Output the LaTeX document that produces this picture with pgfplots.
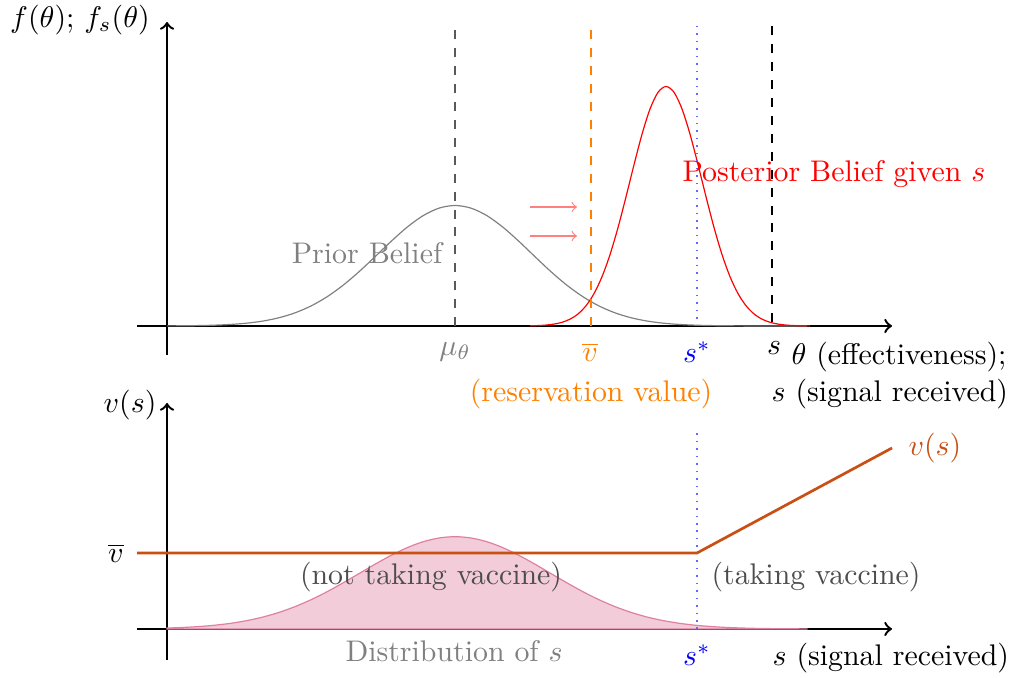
\documentclass[border=0pt]{standalone}
\usepackage{pgfplots}
\pgfplotsset{compat=1.18}
\definecolor{vcol}{RGB}{200,80,20}
\definecolor{rescol}{RGB}{255,128,0}

\pgfplotsset{
  sketch/.style={
    x=0.335pt, y=0.335pt,
    axis lines=middle,
    axis line style={->, line width=0.8pt},
    xtick=\empty, ytick=\empty,
    enlargelimits=false,
    clip=false,
    anchor=origin,
    xmin=-30, xmax=725,
  },
}

\begin{document}
\begin{tikzpicture}
% top panel: prior and posterior beliefs
\begin{axis}[sketch, at={(0pt,0pt)}, ymin=-29, ymax=304]
\addplot[gray, line width=0.4pt, smooth] coordinates {
  (0,0.092) (16,0.199) (32,0.414) (48,0.823) (64,1.565) (80,2.846) (96,4.954)
  (112,8.253) (128,13.14) (144,20.02) (160,29.19) (176,40.68) (192,54.26)
  (208,69.25) (224,84.53) (240,98.71) (256,110.28) (272,117.86) (288,120.5)
  (304,117.86) (320,110.28) (336,98.71) (352,84.53) (368,69.25) (384,54.26)
  (400,40.68) (416,29.19) (432,20.02) (448,13.14) (464,8.253) (480,4.954)
  (496,2.846) (512,1.565) (528,0.823) (544,0.414) (560,0.199) (576,0.092)
  (592,0.04) (608,0.017) (640,0)};
\addplot[red, line width=0.4pt, smooth] coordinates {
  (363,0.190) (371,0.431) (379,0.926) (387,1.895) (395,3.691)
  (403,6.842) (411,12.07) (419,20.27) (427,32.41) (435,49.31) (443,71.42)
  (451,98.46) (459,129.19) (467,161.33) (475,191.77) (483,216.99) (491,233.66)
  (499,239.5) (507,233.66) (515,216.99) (523,191.77) (531,161.33) (539,129.19)
  (547,98.46) (555,71.42) (563,49.31) (571,32.41) (579,20.27) (587,12.07)
  (595,6.842) (603,3.691) (611,1.895) (619,0.926) (627,0.431) (635,0.190)
  (643,0.080)};
\addplot[black!65, dashed, line width=0.6pt] coordinates {(288,0) (288,304)};
\addplot[rescol, dashed, line width=0.75pt] coordinates {(424,0) (424,304)};
\addplot[blue!60, dotted, line width=0.5pt] coordinates {(530,0) (530,304)};
\addplot[black, dashed, line width=0.4pt] coordinates {(605,4) (605,304)};
\addplot[red!50, ->, line width=0.4pt] coordinates {(363,119) (410,119)};
\addplot[red!50, ->, line width=0.4pt] coordinates {(363,90) (410,90)};
\node at (axis cs:-87,306) {$f(\theta)$; $f_s(\theta)$};
\node[gray] at (axis cs:288,-26) {$\mu_\theta$};
\node[rescol] at (axis cs:423,-26) {$\overline{v}$};
\node[blue] at (axis cs:530,-26) {$s^*$};
\node at (axis cs:607,-22) {$s$};
\node[anchor=west] at (axis cs:614,-31) {$\theta$ (effectiveness);};
\node[anchor=west] at (axis cs:594,-68) {$s$ (signal received)};
\node[rescol] at (axis cs:424,-68) {(reservation value)};
\node[red, anchor=west] at (axis cs:505,152) {Posterior Belief given $s$};
\node[gray] at (axis cs:200,73) {Prior Belief};
\end{axis}

% bottom panel: value of vaccination
\begin{axis}[sketch, at={(0pt,-101.5pt)}, ymin=-31, ymax=226]
\addplot[fill=purple!20, draw=purple!50, line width=0.4pt, smooth] coordinates {
  (0,0.932) (16,1.531) (32,2.445) (48,3.794) (64,5.725) (80,8.398) (96,11.97)
  (112,16.59) (128,22.35) (144,29.26) (160,37.23) (176,46.07) (192,55.39)
  (208,64.75) (224,73.56) (240,81.24) (256,87.21) (272,91.00) (288,92.3)
  (304,91.00) (320,87.21) (336,81.24) (352,73.56) (368,64.75) (384,55.39)
  (400,46.07) (416,37.23) (432,29.26) (448,22.35) (464,16.59) (480,11.97)
  (496,8.398) (512,5.725) (528,3.794) (544,2.445) (560,1.531) (576,0.932)
  (592,0.552) (608,0.317) (624,0.177) (640,0.096)} \closedcycle;
\addplot[blue!60, dotted, line width=0.5pt] coordinates {(530,0) (530,196)};
\addplot[vcol, line width=0.9pt] coordinates {(-30,76) (530,76) (725,181)};
\node at (axis cs:-37,224) {$v(s)$};
\node at (axis cs:-51,76) {$\overline{v}$};
\node[vcol, anchor=west] at (axis cs:731,181) {$v(s)$};
\node[black!70] at (axis cs:264,52) {(not taking vaccine)};
\node[black!70] at (axis cs:649,52) {(taking vaccine)};
\node[gray] at (axis cs:287,-22) {Distribution of $s$};
\node[blue] at (axis cs:530,-26) {$s^*$};
\node[anchor=west] at (axis cs:595,-29) {$s$ (signal received)};
\end{axis}
\pgfresetboundingbox
\useasboundingbox (-55.95pt,-117.59pt) rectangle (285.42pt,109.21pt);
\end{tikzpicture}
\end{document}
